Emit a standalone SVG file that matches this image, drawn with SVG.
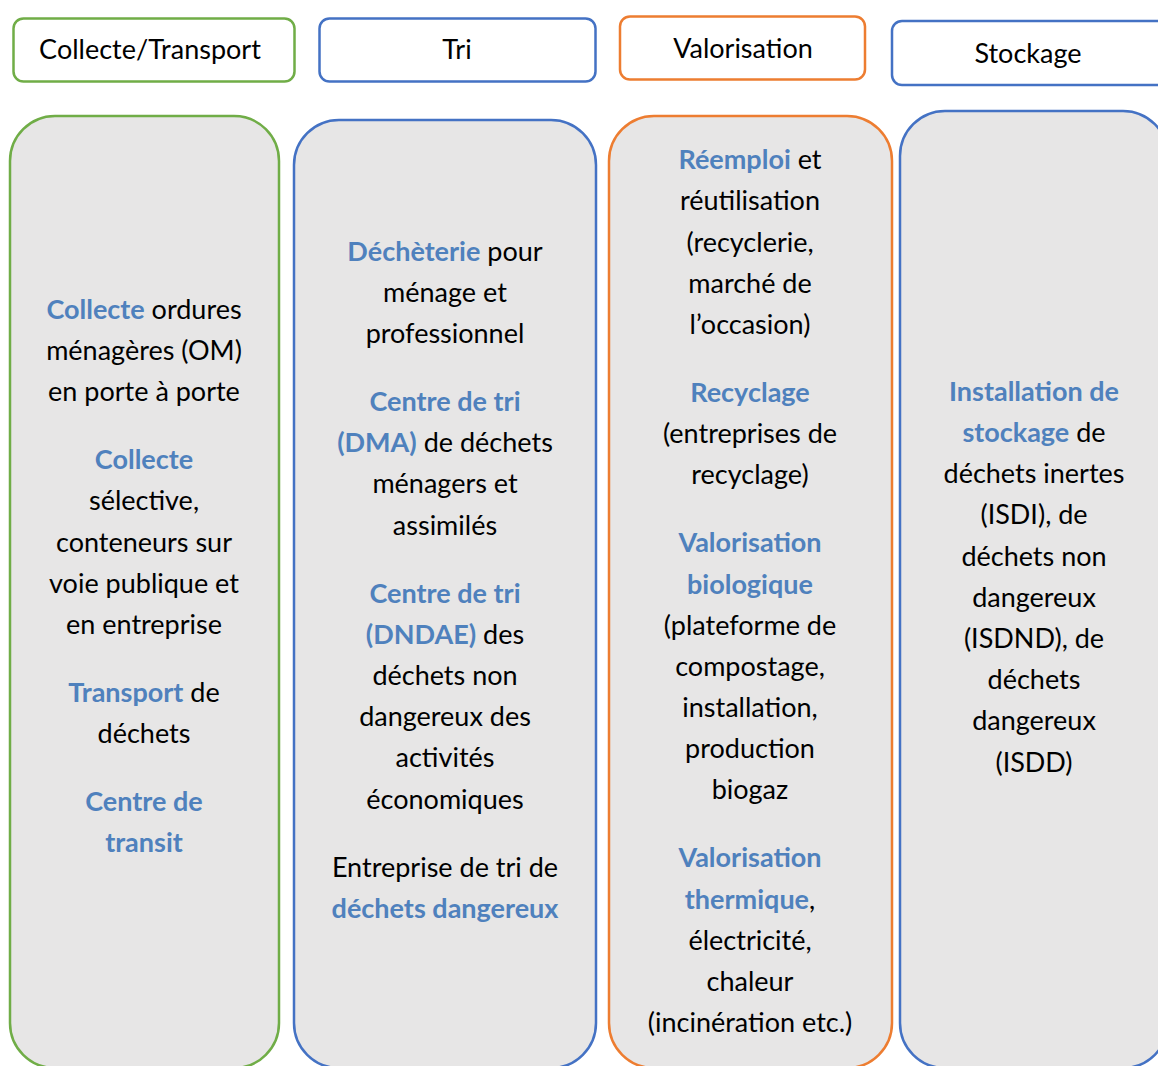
<svg xmlns="http://www.w3.org/2000/svg" width="1158" height="1066" viewBox="0 0 1158 1066">
  <style>
    .hdr { fill: #ffffff; stroke-width: 2.5; }
    .pnl { fill: #e7e6e6; stroke-width: 2.5; }
    .green { stroke: #70ad47; }
    .blue { stroke: #4472c4; }
    .orange { stroke: #ed7d31; }
    text { font-family: Lato, "Open Sans", "Liberation Sans", sans-serif; font-size: 27px; fill: #000000; text-anchor: middle; }
    .k { font-weight: bold; fill: #4f81bd; }
  </style>
  <rect width="1158" height="1066" fill="#ffffff"/>

  <!-- stage headers -->
  <g id="hdr-collecte">
    <rect class="hdr green" x="13.5" y="18.5" width="281" height="63" rx="10"/>
    <text x="150" y="59">Collecte/Transport</text>
  </g>
  <g id="hdr-tri">
    <rect class="hdr blue" x="319.5" y="18.5" width="276" height="63" rx="10"/>
    <text x="457" y="59">Tri</text>
  </g>
  <g id="hdr-valorisation">
    <rect class="hdr orange" x="620" y="16.5" width="245" height="63" rx="10"/>
    <text x="743" y="58">Valorisation</text>
  </g>
  <g id="hdr-stockage">
    <rect class="hdr blue" x="892" y="21" width="285" height="64" rx="10"/>
    <text x="1028" y="63">Stockage</text>
  </g>

  <!-- Collecte / Transport column -->
  <g id="col-collecte">
    <rect class="pnl green" x="10" y="116" width="269" height="952" rx="45"/>
    <text x="144" y="319"><tspan class="k">Collecte</tspan> ordures</text>
    <text x="144" y="360">ménagères (OM)</text>
    <text x="144" y="401">en porte à porte</text>
    <text x="144" y="469"><tspan class="k">Collecte</tspan></text>
    <text x="144" y="510">sélective,</text>
    <text x="144" y="552">conteneurs sur</text>
    <text x="144" y="593">voie publique et</text>
    <text x="144" y="634">en entreprise</text>
    <text x="144" y="702"><tspan class="k">Transport</tspan> de</text>
    <text x="144" y="743">déchets</text>
    <text x="144" y="811"><tspan class="k">Centre de</tspan></text>
    <text x="144" y="852"><tspan class="k">transit</tspan></text>
  </g>

  <!-- Tri column -->
  <g id="col-tri">
    <rect class="pnl blue" x="294" y="120" width="302" height="948" rx="45"/>
    <text x="445" y="261"><tspan class="k">Déchèterie</tspan> pour</text>
    <text x="445" y="302">ménage et</text>
    <text x="445" y="343">professionnel</text>
    <text x="445" y="411"><tspan class="k">Centre de tri</tspan></text>
    <text x="445" y="452"><tspan class="k">(DMA)</tspan> de déchets</text>
    <text x="445" y="493">ménagers et</text>
    <text x="445" y="535">assimilés</text>
    <text x="445" y="603"><tspan class="k">Centre de tri</tspan></text>
    <text x="445" y="644"><tspan class="k">(DNDAE)</tspan> des</text>
    <text x="445" y="685">déchets non</text>
    <text x="445" y="726">dangereux des</text>
    <text x="445" y="767">activités</text>
    <text x="445" y="809">économiques</text>
    <text x="445" y="877">Entreprise de tri de</text>
    <text x="445" y="918"><tspan class="k">déchets dangereux</tspan></text>
  </g>

  <!-- Valorisation column -->
  <g id="col-valorisation">
    <rect class="pnl orange" x="609" y="116" width="283" height="952" rx="45"/>
    <text x="750" y="169"><tspan class="k">Réemploi</tspan> et</text>
    <text x="750" y="210">réutilisation</text>
    <text x="750" y="252">(recyclerie,</text>
    <text x="750" y="293">marché de</text>
    <text x="750" y="334">l’occasion)</text>
    <text x="750" y="402"><tspan class="k">Recyclage</tspan></text>
    <text x="750" y="443">(entreprises de</text>
    <text x="750" y="484">recyclage)</text>
    <text x="750" y="552"><tspan class="k">Valorisation</tspan></text>
    <text x="750" y="594"><tspan class="k">biologique</tspan></text>
    <text x="750" y="635">(plateforme de</text>
    <text x="750" y="676">compostage,</text>
    <text x="750" y="717">installation,</text>
    <text x="750" y="758">production</text>
    <text x="750" y="799">biogaz</text>
    <text x="750" y="867"><tspan class="k">Valorisation</tspan></text>
    <text x="750" y="909"><tspan class="k">thermique</tspan>,</text>
    <text x="750" y="950">électricité,</text>
    <text x="750" y="991">chaleur</text>
    <text x="750" y="1032">(incinération etc.)</text>
  </g>

  <!-- Stockage column -->
  <g id="col-stockage">
    <rect class="pnl blue" x="900" y="111" width="268" height="957" rx="45"/>
    <text x="1034" y="401"><tspan class="k">Installation de</tspan></text>
    <text x="1034" y="442"><tspan class="k">stockage</tspan> de</text>
    <text x="1034" y="483">déchets inertes</text>
    <text x="1034" y="524">(ISDI), de</text>
    <text x="1034" y="566">déchets non</text>
    <text x="1034" y="607">dangereux</text>
    <text x="1034" y="648">(ISDND), de</text>
    <text x="1034" y="689">déchets</text>
    <text x="1034" y="730">dangereux</text>
    <text x="1034" y="772">(ISDD)</text>
  </g>
</svg>
